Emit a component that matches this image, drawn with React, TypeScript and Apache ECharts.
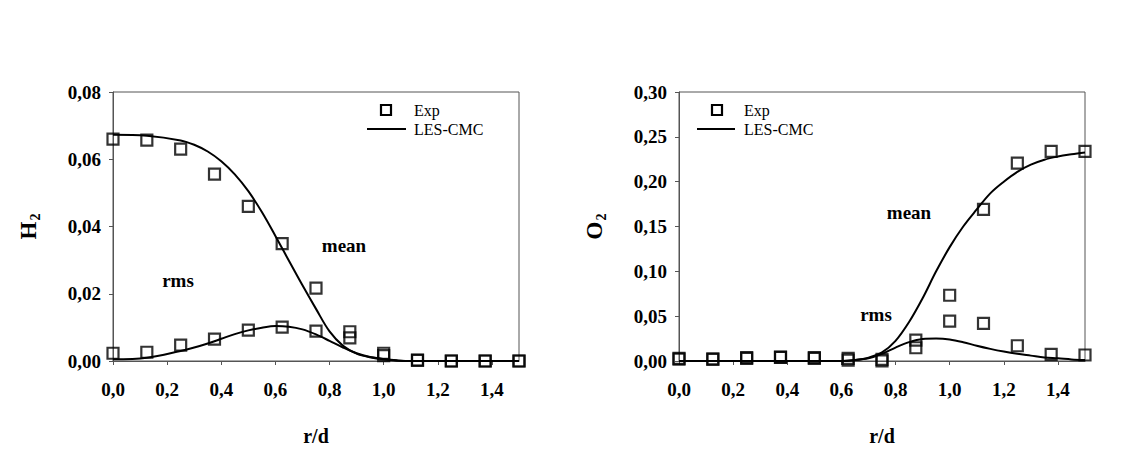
import React, { useEffect, useRef } from "react";
import * as echarts from "echarts";

// ---------- data ----------
const xExp = [0, 0.125, 0.25, 0.375, 0.5, 0.625, 0.75, 0.875, 1.0, 1.125, 1.25, 1.375, 1.5];

const h2MeanExp = [0.066, 0.0657, 0.063, 0.0556, 0.046, 0.0349, 0.0217, 0.0087, 0.0023, 0.0003, 0.0, 0.0, 0.0];
const h2RmsExp = [0.0023, 0.0026, 0.0047, 0.0065, 0.0092, 0.0101, 0.0089, 0.0069, 0.0016, 0.0002, 0.0, 0.0, 0.0];

const xLesH2 = [0, 0.125, 0.25, 0.3, 0.35, 0.4, 0.45, 0.5, 0.55, 0.6, 0.65, 0.7, 0.75, 0.8, 0.85, 0.9, 0.95, 1.0, 1.05, 1.1, 1.2, 1.3, 1.4, 1.5];
const h2MeanLes = [0.0673, 0.067, 0.0656, 0.0643, 0.0623, 0.0594, 0.0555, 0.0505, 0.0443, 0.0372, 0.0298, 0.0225, 0.0155, 0.0088, 0.0045, 0.0022, 0.0011, 0.0005, 0.0001, 0, 0, 0, 0, 0];
const h2RmsLes = [0.0005, 0.001, 0.003, 0.004, 0.0052, 0.0066, 0.008, 0.0091, 0.0099, 0.0104, 0.0102, 0.0094, 0.0079, 0.006, 0.004, 0.0023, 0.0012, 0.0006, 0.0002, 0, 0, 0, 0, 0];

const o2MeanExp = [0.002, 0.002, 0.0037, 0.0044, 0.0037, 0.001, 0.0, 0.0233, 0.0733, 0.169, 0.2207, 0.2337, 0.2337];
const o2RmsExp = [0.003, 0.002, 0.003, 0.004, 0.003, 0.003, 0.0019, 0.0148, 0.0444, 0.0419, 0.017, 0.0074, 0.0067];

const xLesO2 = [0, 0.6, 0.65, 0.7, 0.75, 0.8, 0.85, 0.9, 0.95, 1.0, 1.05, 1.1, 1.15, 1.2, 1.25, 1.3, 1.35, 1.4, 1.45, 1.5];
const o2MeanLes = [0, 0, 0.001, 0.0037, 0.0096, 0.0225, 0.0435, 0.07, 0.1, 0.127, 0.15, 0.169, 0.187, 0.2, 0.211, 0.219, 0.2245, 0.228, 0.2305, 0.2326];
const o2RmsLes = [0, 0, 0.001, 0.003, 0.008, 0.015, 0.021, 0.0245, 0.025, 0.024, 0.021, 0.017, 0.0135, 0.0105, 0.008, 0.006, 0.004, 0.003, 0.0018, 0.001];

const legendLabels = ["Exp", "LES-CMC"];
const annotationLabels = ["mean", "rms"];

// ---------- helpers ----------
const FONT = "'Liberation Serif', 'Times New Roman', serif";
const AXIS_COLOR = "#555";

const zip = (xs: number[], ys: number[]) => xs.map((x, i) => [x, ys[i]]);

const xAxisCfg = (gridIndex: number) => ({
  type: "value",
  gridIndex,
  min: 0,
  max: 1.5,
  interval: 0.2,
  axisLine: { show: true, onZero: false, lineStyle: { color: AXIS_COLOR, width: 1 } },
  axisTick: { show: true, inside: false, length: 4, lineStyle: { color: AXIS_COLOR } },
  splitLine: { show: false },
  axisLabel: {
    fontFamily: FONT,
    fontSize: 19,
    fontWeight: "bold",
    color: "#000",
    margin: 19,
    showMaxLabel: false,
    formatter: (v: number) => v.toFixed(1).replace(".", ","),
  },
  name: "r/d",
  nameLocation: "middle",
  nameGap: 65,
  nameTextStyle: { fontFamily: FONT, fontSize: 20, fontWeight: "bold", color: "#000" },
});

const yAxisCfg = (gridIndex: number, max: number, interval: number, letter: string) => ({
  type: "value",
  gridIndex,
  min: 0,
  max,
  interval,
  axisLine: { show: true, lineStyle: { color: AXIS_COLOR, width: 1 } },
  axisTick: { show: true, inside: false, length: 4, lineStyle: { color: AXIS_COLOR } },
  splitLine: { show: false },
  axisLabel: {
    fontFamily: FONT,
    fontSize: 19,
    fontWeight: "bold",
    color: "#000",
    margin: 12,
    formatter: (v: number) => v.toFixed(2).replace(".", ","),
  },
  name: `{a|${letter}}{b|2}`,
  nameLocation: "middle",
  nameRotate: 90,
  nameGap: 71,
  nameTextStyle: {
    rich: {
      a: { fontFamily: FONT, fontSize: 23, fontWeight: "bold", color: "#000" },
      b: { fontFamily: FONT, fontSize: 14, fontWeight: "bold", color: "#000", padding: [14, 0, 0, 1] },
    },
  },
});

const lesSeries = (axis: number, xs: number[], ys: number[]) => ({
  type: "line",
  xAxisIndex: axis,
  yAxisIndex: axis,
  data: zip(xs, ys),
  showSymbol: false,
  smooth: 0.35,
  lineStyle: { color: "#000", width: 2 },
  z: 2,
});

const expSeries = (axis: number, ys: number[]) => ({
  type: "scatter",
  xAxisIndex: axis,
  yAxisIndex: axis,
  data: zip(xExp, ys),
  symbol: "rect",
  symbolSize: 11,
  itemStyle: { color: "rgba(0,0,0,0)", borderColor: "#000", borderWidth: 2.2 },
  z: 3,
});

const legendGraphic = (sqX: number, lineX0: number, lineX1: number, textX: number) => [
  {
    type: "rect",
    shape: { x: sqX - 5, y: 105, width: 10, height: 10 },
    style: { fill: "rgba(0,0,0,0)", stroke: "#000", lineWidth: 2.2 },
  },
  {
    type: "line",
    shape: { x1: lineX0, y1: 129, x2: lineX1, y2: 129 },
    style: { stroke: "#000", lineWidth: 2 },
  },
  {
    type: "text",
    x: textX,
    y: 110,
    style: { text: legendLabels[0], font: `16px ${FONT}`, fill: "#000", textAlign: "left", textVerticalAlign: "middle" },
  },
  {
    type: "text",
    x: textX,
    y: 129,
    style: { text: legendLabels[1], font: `16px ${FONT}`, fill: "#000", textAlign: "left", textVerticalAlign: "middle" },
  },
];

const annot = (text: string, x: number, y: number) => ({
  type: "text",
  x,
  y,
  style: { text, font: `bold 19px ${FONT}`, fill: "#000", textAlign: "center", textVerticalAlign: "middle" },
});

export default function App() {
  const ref = useRef<HTMLDivElement>(null);

  useEffect(() => {
    if (!ref.current) return;
    const chart = echarts.init(ref.current, undefined, { renderer: "svg" });
    chart.setOption({
      animation: false,
      backgroundColor: "#fff",
      grid: [
        { left: 113, top: 92, width: 406, height: 270, show: true, borderColor: AXIS_COLOR, borderWidth: 1, backgroundColor: "rgba(0,0,0,0)" },
        { left: 679, top: 92, width: 406, height: 270, show: true, borderColor: AXIS_COLOR, borderWidth: 1, backgroundColor: "rgba(0,0,0,0)" },
      ],
      xAxis: [xAxisCfg(0), xAxisCfg(1)],
      yAxis: [yAxisCfg(0, 0.08, 0.02, "H"), yAxisCfg(1, 0.3, 0.05, "O")],
      series: [
        lesSeries(0, xLesH2, h2MeanLes),
        lesSeries(0, xLesH2, h2RmsLes),
        expSeries(0, h2MeanExp),
        expSeries(0, h2RmsExp),
        lesSeries(1, xLesO2, o2MeanLes),
        lesSeries(1, xLesO2, o2RmsLes),
        expSeries(1, o2MeanExp),
        expSeries(1, o2RmsExp),
      ],
      graphic: [
        ...legendGraphic(386, 367, 406, 414),
        ...legendGraphic(717, 697, 735, 744),
        annot(annotationLabels[0], 344, 245),
        annot(annotationLabels[1], 178, 280),
        annot(annotationLabels[0], 909, 212),
        annot(annotationLabels[1], 876, 314),
      ],
    });
    return () => chart.dispose();
  }, []);

  return (
    <div
      ref={ref}
      style={{ position: "fixed", left: 0, top: 0, width: 1127, height: 451, background: "#fff" }}
    />
  );
}
